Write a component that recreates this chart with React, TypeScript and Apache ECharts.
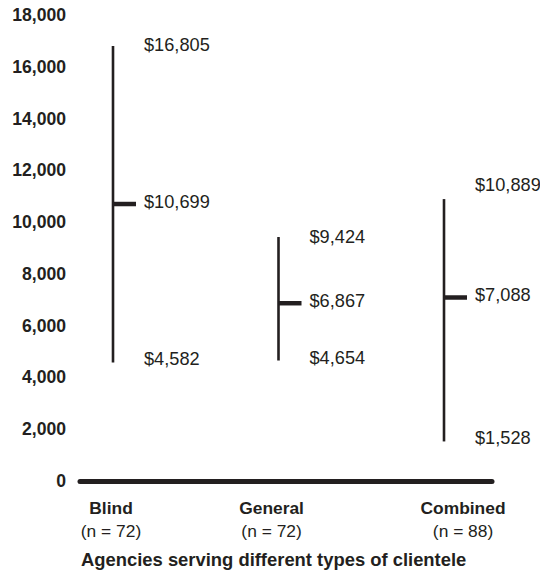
import React, { useEffect, useRef } from "react";
import * as echarts from "echarts";

// ---- data ----
const categories = ["Blind", "General", "Combined"];
const sampleSizes = [72, 72, 88];
const minValues = [4582, 4654, 1528];
const meanValues = [10699, 6867, 7088];
const maxValues = [16805, 9424, 10889];
const yMin = 0;
const yMax = 18000;
const yInterval = 2000;
const axisTitle = "Agencies serving different types of clientele";

// ---- layout / style ----
const INK = "#231f20";
const FONT = '"Liberation Sans", Arial, Helvetica, sans-serif';
const labelShift = [-0.012, -0.042, 0.115];
const maxLabelDy = [-1, 0, -14];

const fmt = (v: number) => v.toLocaleString("en-US");

export default function App() {
  const ref = useRef<HTMLDivElement>(null);

  useEffect(() => {
    document.body.style.margin = "0";
    const chart = echarts.init(ref.current!, null, { renderer: "svg" });

    const data = categories.map((_, i) => [i, minValues[i], meanValues[i], maxValues[i]]);

    const textEl = (v: number, x: number, y: number) => ({
      type: "text",
      x,
      y,
      style: {
        text: "$" + fmt(v),
        fill: INK,
        fontSize: 18.2,
        fontFamily: FONT,
        align: "left",
        verticalAlign: "middle",
      },
    });

    chart.setOption({
      animation: false,
      backgroundColor: "#ffffff",
      title: {
        text: axisTitle,
        left: 81,
        top: 550,
        padding: 0,
        textStyle: { fontSize: 18.4, fontWeight: "bold", color: INK, fontFamily: FONT },
      },
      grid: { left: 80, right: 48, top: 15, bottom: 92 },
      xAxis: {
        type: "value",
        min: -0.1994,
        max: 2.29,
        axisLine: { show: true, lineStyle: { color: INK, width: 5 } },
        axisTick: { show: false },
        splitLine: { show: false },
        axisLabel: {
          customValues: categories.map((_, i) => i + labelShift[i]),
          margin: 15,
          color: INK,
          fontFamily: FONT,
          formatter: (v: number) => {
            const i = Math.round(v);
            return `{b|${categories[i]}}\n{n|(n = ${sampleSizes[i]})}`;
          },
          rich: {
            b: { fontWeight: "bold", fontSize: 17.4, lineHeight: 23, color: INK, fontFamily: FONT },
            n: { fontSize: 17.4, lineHeight: 23, color: INK, fontFamily: FONT },
          },
        },
      },
      yAxis: {
        type: "value",
        min: yMin,
        max: yMax,
        interval: yInterval,
        axisLine: { show: false },
        axisTick: { show: false },
        splitLine: { show: false },
        axisLabel: {
          margin: 14,
          color: INK,
          fontSize: 17.6,
          fontWeight: "bold",
          fontFamily: FONT,
          formatter: (v: number) => fmt(v),
        },
      },
      series: [
        {
          type: "custom",
          data,
          encode: { x: 0, y: [1, 2, 3] },
          renderItem: (params: any, api: any) => {
            const i = params.dataIndex;
            const x = api.value(0);
            const lo = api.coord([x, api.value(1)]);
            const mid = api.coord([x, api.value(2)]);
            const hi = api.coord([x, api.value(3)]);
            const tx = lo[0] + 31;
            return {
              type: "group",
              children: [
                {
                  type: "line",
                  shape: { x1: lo[0], y1: lo[1], x2: hi[0], y2: hi[1] },
                  style: { stroke: INK, lineWidth: 2.6 },
                },
                {
                  type: "line",
                  shape: { x1: mid[0], y1: mid[1], x2: mid[0] + 23, y2: mid[1] },
                  style: { stroke: INK, lineWidth: 4.5 },
                },
                textEl(api.value(3), tx, hi[1] + maxLabelDy[i]),
                textEl(api.value(2), tx, mid[1] - 2),
                textEl(api.value(1), tx, lo[1] - 3),
              ],
            };
          },
        },
      ],
    });

    return () => chart.dispose();
  }, []);

  return (
    <div
      ref={ref}
      style={{ position: "absolute", left: 0, top: 0, width: 540, height: 573 }}
    />
  );
}
